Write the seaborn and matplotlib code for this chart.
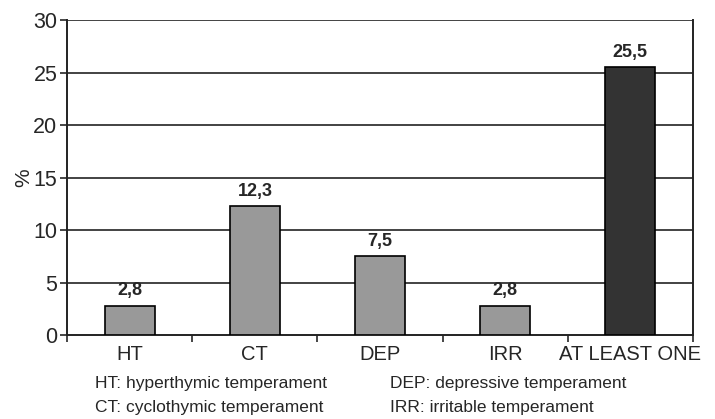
import seaborn as sns
import matplotlib.pyplot as plt
import pandas as pd

# data
categories = ['HT', 'CT', 'DEP', 'IRR', 'AT LEAST ONE']
values = [2.8, 12.3, 7.5, 2.8, 25.5]
value_labels = ['2,8', '12,3', '7,5', '2,8', '25,5']
bar_colors = ['#999999', '#999999', '#999999', '#999999', '#333333']
y_ticks = [0, 5, 10, 15, 20, 25, 30]
notes_left = ['HT: hyperthymic temperament', 'CT: cyclothymic temperament']
notes_right = ['DEP: depressive temperament', 'IRR: irritable temperament']

df = pd.DataFrame({'cat': categories, 'val': values})

sns.set_style('white')
plt.rcParams['font.family'] = ['Liberation Sans', 'DejaVu Sans']

fig = plt.figure(figsize=(7.15, 4.19), dpi=100)
ax = fig.add_axes([0.094, 0.2, 0.875, 0.752])

sns.barplot(x='cat', y='val', data=df, hue='cat', palette=bar_colors,
            legend=False, width=0.4, edgecolor='black', linewidth=1.2,
            saturation=1, ax=ax, zorder=3)

# horizontal grid
for t in y_ticks[1:]:
    ax.axhline(t, color='#222222', lw=1.2, zorder=1)

ax.set_ylim(0, 30)
ax.set_xlim(-0.5, 4.5)
ax.set_yticks(y_ticks)
ax.set_yticklabels([str(t) for t in y_ticks], fontsize=15.5)
ax.set_xticks(range(5))
ax.set_xticklabels(categories, fontsize=14.5)
ax.tick_params(axis='x', length=0, pad=7)
ax.tick_params(axis='y', length=5, width=1.2, direction='out', left=True, pad=2)

# ticks between categories on the x axis
ax.set_xticks([-0.5, 0.5, 1.5, 2.5, 3.5, 4.5], minor=True)
ax.tick_params(axis='x', which='minor', length=5, width=1.2, direction='out', bottom=True)

ax.set_xlabel('')
ax.set_ylabel('%', fontsize=15, labelpad=0)

for s in ['left', 'bottom', 'right']:
    ax.spines[s].set_visible(True)
    ax.spines[s].set_color('#222222')
    ax.spines[s].set_linewidth(1.4)
ax.spines['top'].set_visible(False)

for i, (v, lab) in enumerate(zip(values, value_labels)):
    ax.text(i, v + 0.6, lab, ha='center', va='bottom', fontsize=13, fontweight='bold')

for j, (l, r) in enumerate(zip(notes_left, notes_right)):
    y = 0.085 - j * 0.058
    fig.text(0.133, y, l, fontsize=12.5, va='center')
    fig.text(0.545, y, r, fontsize=12.5, va='center')

fig.savefig('out.png', dpi=100)
